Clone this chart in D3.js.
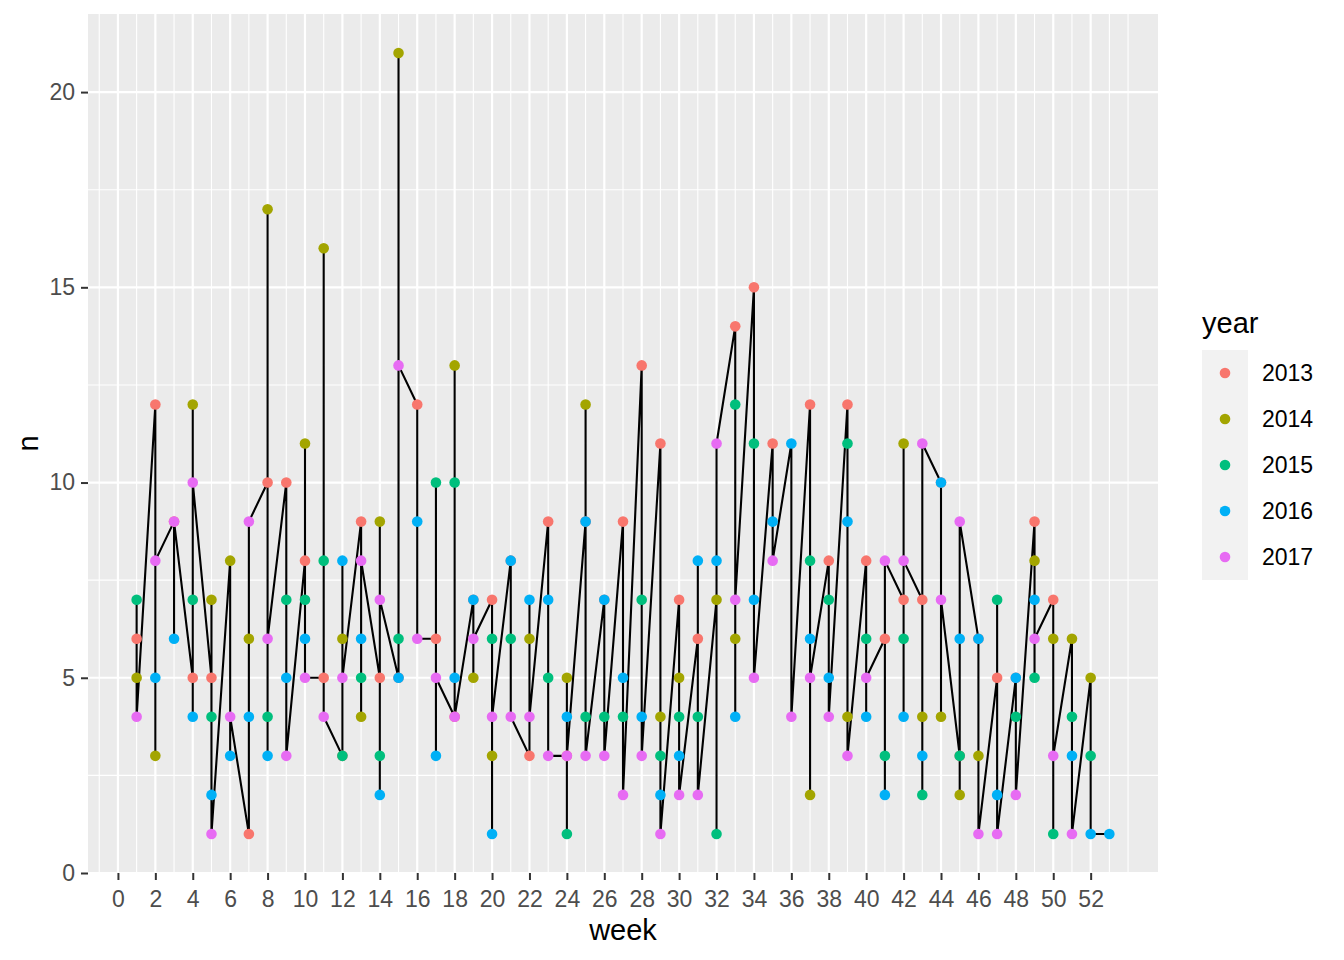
<!DOCTYPE html>
<html>
<head>
<meta charset="utf-8">
<script src="https://cdn.jsdelivr.net/npm/d3@7"></script>
<style>
  body { margin: 0; background: #fff; }
  svg { display: block; font-family: "Liberation Sans", Arial, sans-serif; }
</style>
</head>
<body>
<div id="chart"></div>
<script>
const years = ['2013', '2014', '2015', '2016', '2017'];
const colors = ['#F8766D', '#A3A500', '#00BF7D', '#00B0F6', '#E76BF3'];

const weeks = [1, 2, 3, 4, 5, 6, 7, 8, 9, 10, 11, 12, 13, 14, 15, 16, 17, 18, 19, 20,
  21, 22, 23, 24, 25, 26, 27, 28, 29, 30, 31, 32, 33, 34, 35, 36, 37, 38, 39, 40,
  41, 42, 43, 44, 45, 46, 47, 48, 49, 50, 51, 52, 53];

// counts per week (null = no row that week)
const n2013 = [6, 12, 9, 5, 5, null, 1, 10, 10, 8, 5, 3, 9, 5, 5, 12, 6, 4, 7, 7,
  8, 3, 9, 3, 9, 7, 9, 13, 11, 7, 6, null, 14, 15, 11, null, 12, 8, 12, 8,
  6, 7, 7, 10, 3, 6, 5, 5, 9, 7, null, null, null];
const n2014 = [5, 3, null, 12, 7, 8, 6, 17, null, 11, 16, 6, 4, 9, 21, null, null, 13, 5, 3,
  null, 6, null, 5, 12, null, null, null, 4, 5, null, 7, 6, null, null, null, 2, null, 4, null,
  null, 11, 4, 4, 2, 3, null, null, 8, 6, 6, 5, null];
const n2015 = [7, null, null, 7, 4, null, null, 4, 7, 7, 8, 3, 5, 3, 6, null, 10, 10, null, 6,
  6, null, 5, 1, 4, 4, 4, 7, 3, 4, 4, 1, 12, 11, null, null, 8, 7, 11, 6,
  3, 6, 2, null, 3, null, 7, 4, 5, 1, 4, 3, null];
const n2016 = [null, 5, 6, 4, 2, 3, 4, 3, 5, 6, null, 8, 6, 2, 5, 9, 3, 5, 7, 1,
  8, 7, 7, 4, 9, 7, 5, 4, 2, 3, 8, 8, 4, 7, 9, 11, 6, 5, 9, 4,
  2, 4, 3, 10, 6, 6, 2, 5, 7, null, 3, 1, 1];
const n2017 = [4, 8, 9, 10, 1, 4, 9, 6, 3, 5, 4, 5, 8, 7, 13, 6, 5, 4, 6, 4,
  4, 4, 3, 3, 3, 3, 2, 3, 1, 2, 2, 11, 7, 5, 8, 4, 5, 4, 3, 5,
  8, 8, 11, 7, 9, 1, 1, 2, 6, 3, 1, null, null];

const counts = [n2013, n2014, n2015, n2016, n2017];

const xBreaks = [0, 2, 4, 6, 8, 10, 12, 14, 16, 18, 20, 22, 24, 26, 28, 30, 32, 34, 36, 38,
  40, 42, 44, 46, 48, 50, 52];
const yBreaks = [0, 5, 10, 15, 20];

const width = 1344, height = 960;
const panel = {left: 88, right: 1158, top: 14, bottom: 873};

// rows ordered year then week, as a counted table would be
const rows = [];
years.forEach((y, yi) => {
  weeks.forEach((w, wi) => {
    const v = counts[yi][wi];
    if (v != null) rows.push({year: y, week: w, n: v});
  });
});

const wExt = d3.extent(rows, d => d.week);
const nExt = d3.extent(rows, d => d.n);
const wPad = (wExt[1] - wExt[0]) * 0.05;
const nPad = (nExt[1] - nExt[0]) * 0.05;

const xScale = d3.scaleLinear()
  .domain([wExt[0] - wPad, wExt[1] + wPad])
  .range([panel.left, panel.right]);

const yScale = d3.scaleLinear()
  .domain([nExt[0] - nPad, nExt[1] + nPad])
  .range([panel.bottom, panel.top]);

const colorScale = d3.scaleOrdinal().domain(years).range(colors);

const svg = d3.select('#chart').append('svg')
  .attr('width', width)
  .attr('height', height);

svg.append('rect')
  .attr('x', panel.left).attr('y', panel.top)
  .attr('width', panel.right - panel.left)
  .attr('height', panel.bottom - panel.top)
  .attr('fill', '#EBEBEB');

// minor breaks: halfway between majors, one step past each end
const minorOf = (b, dom) => {
  const step = b[1] - b[0];
  const ext = [b[0] - step].concat(b, [b[b.length - 1] + step]);
  const out = [];
  for (let i = 0; i < ext.length - 1; i++) {
    out.push((ext[i] + ext[i + 1]) / 2);
    if (i > 0) out.push(ext[i]);
  }
  out.push(ext[ext.length - 1]);
  return out.filter(v => v >= dom[0] && v <= dom[1] && !b.includes(v));
};

const grid = svg.append('g');

grid.selectAll('.xminor')
  .data(minorOf(xBreaks, xScale.domain()))
  .enter().append('line')
  .attr('x1', d => xScale(d)).attr('x2', d => xScale(d))
  .attr('y1', panel.top).attr('y2', panel.bottom)
  .attr('stroke', '#fff').attr('stroke-width', 1.1);

grid.selectAll('.yminor')
  .data(minorOf(yBreaks, yScale.domain()))
  .enter().append('line')
  .attr('y1', d => yScale(d)).attr('y2', d => yScale(d))
  .attr('x1', panel.left).attr('x2', panel.right)
  .attr('stroke', '#fff').attr('stroke-width', 1.1);

grid.selectAll('.xmajor')
  .data(xBreaks)
  .enter().append('line')
  .attr('x1', d => xScale(d)).attr('x2', d => xScale(d))
  .attr('y1', panel.top).attr('y2', panel.bottom)
  .attr('stroke', '#fff').attr('stroke-width', 2.2);

grid.selectAll('.ymajor')
  .data(yBreaks)
  .enter().append('line')
  .attr('y1', d => yScale(d)).attr('y2', d => yScale(d))
  .attr('x1', panel.left).attr('x2', panel.right)
  .attr('stroke', '#fff').attr('stroke-width', 2.2);

// axes
const xaxis = svg.append('g')
  .attr('transform', `translate(0,${panel.bottom})`)
  .call(d3.axisBottom(xScale).tickValues(xBreaks).tickSize(7).tickPadding(6));

const yaxis = svg.append('g')
  .attr('transform', `translate(${panel.left},0)`)
  .call(d3.axisLeft(yScale).tickValues(yBreaks).tickSize(7).tickPadding(6));

[xaxis, yaxis].forEach(a => {
  a.select('.domain').remove();
  a.selectAll('line').attr('stroke', '#333333').attr('stroke-width', 2);
  a.selectAll('text')
    .attr('fill', '#4D4D4D')
    .style('font-size', '23px')
    .style('font-family', '"Liberation Sans", Arial, sans-serif');
});
xaxis.selectAll('text').attr('dy', '0.92em');

svg.append('text')
  .attr('x', (panel.left + panel.right) / 2)
  .attr('y', 940)
  .attr('text-anchor', 'middle')
  .style('font-size', '29px')
  .text('week');

svg.append('text')
  .attr('transform', `translate(38,${(panel.top + panel.bottom) / 2}) rotate(-90)`)
  .attr('text-anchor', 'middle')
  .style('font-size', '29px')
  .text('n');

// one line through everything, sorted by week (stable within week)
const lineRows = rows.slice().sort((a, b) => a.week - b.week);

const line = d3.line()
  .x(d => xScale(d.week))
  .y(d => yScale(d.n));

svg.append('path')
  .attr('d', line(lineRows))
  .attr('fill', 'none')
  .attr('stroke', '#000')
  .attr('stroke-width', 2.1)
  .attr('stroke-linejoin', 'round');

svg.append('g').selectAll('circle')
  .data(rows)
  .enter().append('circle')
  .attr('cx', d => xScale(d.week))
  .attr('cy', d => yScale(d.n))
  .attr('r', 5.3)
  .attr('fill', d => colorScale(d.year));

// legend
const legend = svg.append('g').attr('transform', 'translate(1202,0)');

legend.append('text')
  .attr('x', 0).attr('y', 333)
  .style('font-size', '29px')
  .text('year');

legend.append('rect')
  .attr('x', 0).attr('y', 350)
  .attr('width', 46).attr('height', 46 * years.length)
  .attr('fill', '#F2F2F2');

const keys = legend.selectAll('.key')
  .data(years)
  .enter().append('g')
  .attr('transform', (d, i) => `translate(0,${350 + 46 * i})`);

keys.append('circle')
  .attr('cx', 23).attr('cy', 23)
  .attr('r', 5.3)
  .attr('fill', d => colorScale(d));

keys.append('text')
  .attr('x', 60).attr('y', 23)
  .attr('dy', '0.36em')
  .style('font-size', '23px')
  .text(d => d);
</script>
</body>
</html>
